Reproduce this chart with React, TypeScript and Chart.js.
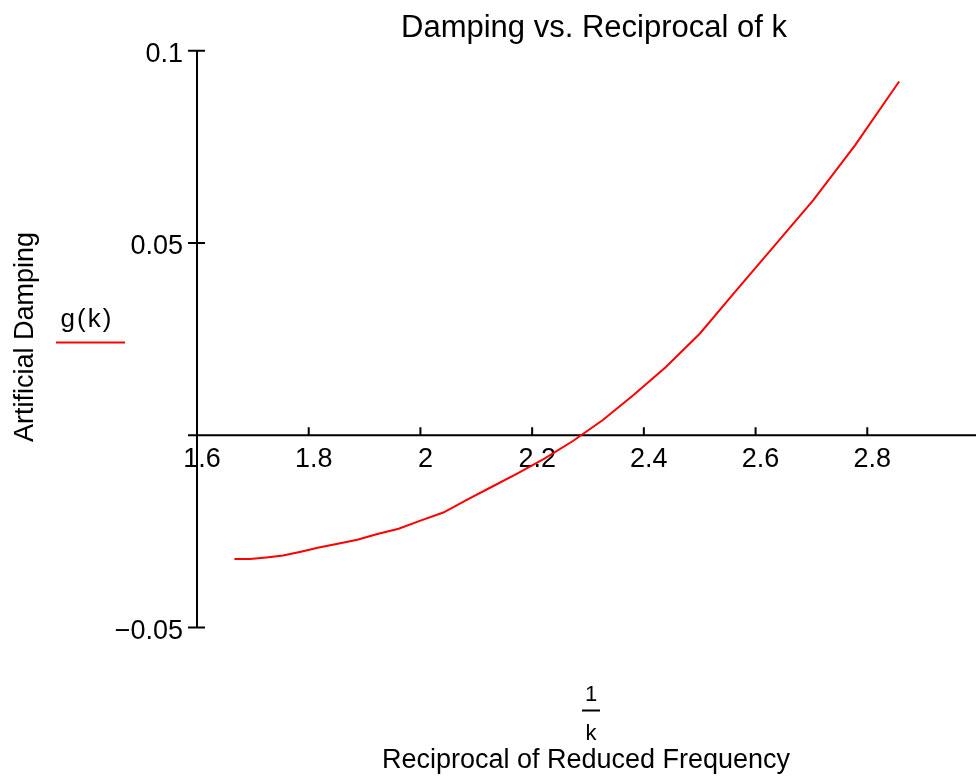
import { useEffect, useRef } from "react";
import { Chart, registerables } from "chart.js";

Chart.register(...registerables);

// 1/k values (reciprocal of reduced frequency)
const recipK = [
  1.667, 1.695, 1.724, 1.754, 1.786, 1.818, 1.852, 1.887, 1.923, 1.961, 2.0,
  2.041, 2.083, 2.128, 2.174, 2.222, 2.273, 2.326, 2.381, 2.439, 2.5, 2.564,
  2.632, 2.703, 2.778, 2.857,
];
// g(k) artificial damping
const gValues = [
  -0.0322, -0.0322, -0.0318, -0.0313, -0.0303, -0.0292, -0.0282, -0.0272,
  -0.0257, -0.0243, -0.0222, -0.0201, -0.0168, -0.0134, -0.0099, -0.0061,
  -0.0015, 0.0039, 0.0104, 0.0177, 0.0264, 0.0374, 0.049, 0.0611, 0.0754,
  0.092,
];

const xMin = 1.6;
const xMax = 3.0;
const xStep = 0.2;
const yMin = -0.05;
const yMax = 0.1;
const yStep = 0.05;

const titleText = "Damping vs. Reciprocal of k";
const yTitle = "Artificial Damping";
const xTitle = "Reciprocal of Reduced Frequency";
const legendLabel = "g(k)";

const FONT = "'Liberation Sans', Arial, sans-serif";

function fmtX(v: number): string {
  if (Math.abs(v - xMax) < 1e-9) return "";
  return String(Math.round(v * 10) / 10);
}
function fmtY(v: number): string {
  if (Math.abs(v) < 1e-9) return "";
  const s = String(Math.round(v * 100) / 100);
  return s.replace("-", "\u2212");
}

const mathcadPlugin = {
  id: "mathcadDecor",
  beforeDatasetsDraw(chart: any) {
    const { ctx, chartArea } = chart;
    const xs = chart.scales.x;
    const ys = chart.scales.y;
    const y0 = ys.getPixelForValue(0);
    const x0 = xs.getPixelForValue(xMin);
    ctx.save();
    ctx.strokeStyle = "#000";
    ctx.lineWidth = 2;
    ctx.beginPath();
    ctx.moveTo(chartArea.left, y0);
    ctx.lineTo(chartArea.right + 5, y0);
    ctx.moveTo(x0, ys.getPixelForValue(yMax));
    ctx.lineTo(x0, ys.getPixelForValue(yMin));
    xs.ticks.forEach((t: any) => {
      if (t.value > xMin + 1e-9) {
        const px = xs.getPixelForValue(t.value);
        ctx.moveTo(px, y0);
        ctx.lineTo(px, y0 - 8);
      }
    });
    ys.ticks.forEach((t: any) => {
      const py = ys.getPixelForValue(t.value);
      ctx.moveTo(x0 - 9, py);
      ctx.lineTo(x0 + 8, py);
    });
    ctx.stroke();
    ctx.restore();
  },
  afterDraw(chart: any) {
    const { ctx } = chart;
    ctx.save();
    ctx.fillStyle = "#000";
    ctx.textBaseline = "alphabetic";
    // title
    ctx.font = `31px ${FONT}`;
    ctx.textAlign = "center";
    ctx.fillText(titleText, 594, 36.5);
    // x axis title: fraction 1/k
    ctx.font = `22px ${FONT}`;
    ctx.fillText("1", 591, 700.5);
    ctx.fillText("k", 591, 740);
    ctx.strokeStyle = "#000";
    ctx.lineWidth = 2;
    ctx.beginPath();
    ctx.moveTo(582, 710.5);
    ctx.lineTo(600, 710.5);
    ctx.stroke();
    ctx.font = `27px ${FONT}`;
    ctx.fillText(xTitle, 586, 768);
    // y axis title
    ctx.save();
    ctx.translate(33, 337);
    ctx.rotate(-Math.PI / 2);
    ctx.textAlign = "center";
    ctx.fillText(yTitle, 0, 0);
    ctx.restore();
    // legend
    ctx.font = `26px ${FONT}`;
    ctx.textAlign = "center";
    (ctx as any).letterSpacing = "2px";
    ctx.fillText(legendLabel, 87, 327);
    (ctx as any).letterSpacing = "0px";
    ctx.strokeStyle = "#ff0000";
    ctx.lineWidth = 2;
    ctx.beginPath();
    ctx.moveTo(56, 342.5);
    ctx.lineTo(125, 342.5);
    ctx.stroke();
    ctx.restore();
  },
};

export default function App() {
  const canvasRef = useRef<HTMLCanvasElement | null>(null);

  useEffect(() => {
    const canvas = canvasRef.current;
    if (!canvas) return;
    const chart = new Chart(canvas, {
      type: "line",
      data: {
        datasets: [
          {
            label: legendLabel,
            data: recipK.map((x, i) => ({ x, y: gValues[i] })),
            borderColor: "#ff0000",
            backgroundColor: "#ff0000",
            borderWidth: 2,
            pointRadius: 0,
            tension: 0,
            fill: false,
          },
        ],
      },
      options: {
        responsive: false,
        animation: false,
        layout: {
          padding: { left: 97, right: 0, top: 50.7, bottom: 151.5 },
        },
        plugins: {
          legend: { display: false },
          title: { display: false },
          tooltip: { enabled: false },
        },
        scales: {
          x: {
            type: "linear",
            min: xMin,
            max: xMax,
            position: { y: 0 } as any,
            grid: { display: false, drawTicks: false },
            border: { display: false },
            ticks: {
              stepSize: xStep,
              color: "#000",
              font: { family: FONT, size: 27 },
              padding: 8,
              labelOffset: 5,
              maxRotation: 0,
              autoSkip: false,
              callback: (v: any) => fmtX(Number(v)),
            },
          },
          y: {
            type: "linear",
            min: yMin,
            max: yMax,
            position: "left",
            afterFit: (scale: any) => {
              scale.width = 100;
            },
            grid: { display: false, drawTicks: false },
            border: { display: false },
            ticks: {
              stepSize: yStep,
              color: "#000",
              font: { family: FONT, size: 27 },
              padding: 14,
              labelOffset: 4,
              autoSkip: false,
              callback: (v: any) => fmtY(Number(v)),
            },
          },
        },
      },
      plugins: [mathcadPlugin],
    });
    return () => chart.destroy();
  }, []);

  return (
    <div
      style={{
        position: "fixed",
        left: 0,
        top: 0,
        width: 976,
        height: 779,
        overflow: "hidden",
        background: "#fff",
      }}
    >
      <canvas
        ref={canvasRef}
        width={987}
        height={779}
        style={{ display: "block" }}
      />
    </div>
  );
}
